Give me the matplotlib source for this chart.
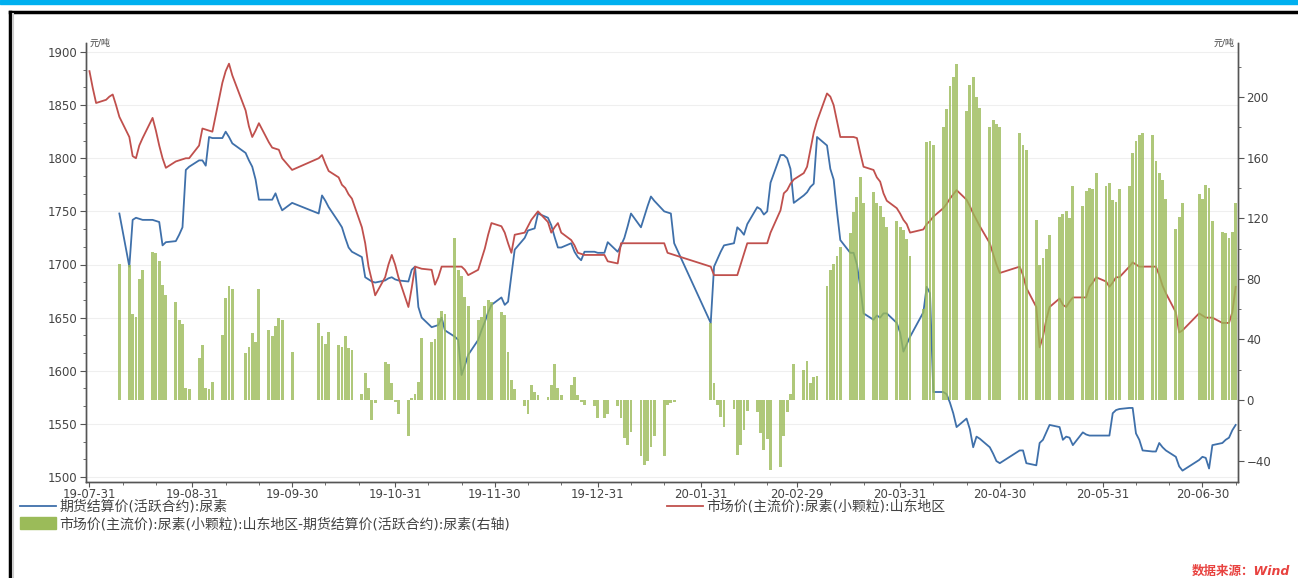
import numpy as np
import pandas as pd
import matplotlib
matplotlib.use("Agg")
import matplotlib.pyplot as plt
import matplotlib.dates as mdates
from matplotlib.ticker import MultipleLocator
from matplotlib.lines import Line2D
from matplotlib.patches import Rectangle, Patch

plt.rcParams['font.family'] = ['DejaVu Sans', 'Noto Sans CJK SC']

# trading days, exchange holidays removed
HOLIDAYS = ["2019-09-13", "2019-10-01", "2019-10-02", "2019-10-03", "2019-10-04", "2019-10-07",
            "2020-01-01", "2020-01-24", "2020-01-27", "2020-01-28", "2020-01-29", "2020-01-30",
            "2020-01-31", "2020-04-06", "2020-05-01", "2020-05-04", "2020-05-05",
            "2020-06-25", "2020-06-26"]
days = pd.bdate_range("2019-07-31", "2020-07-10")
days = days[~days.isin(pd.to_datetime(HOLIDAYS))]

# 市场价(主流价):尿素(小颗粒):山东地区, one row per week
spot = [
    1882, 1866, 1852,
    1855, 1858, 1860, 1850, 1839,
    1820, 1802, 1800, 1812, 1819,
    1838, 1826, 1812, 1800, 1791,
    1797, 1798, 1799, 1800, 1800,
    1812, 1828, 1827, 1826, 1825,
    1871, 1882, 1889, 1878,
    1845, 1830, 1820, 1826, 1833,
    1815, 1810, 1809, 1808, 1800,
    1789,
    1800, 1803, 1795, 1788,
    1782, 1775, 1772, 1766, 1762,
    1735, 1720, 1698, 1685, 1671,
    1688, 1700, 1709, 1700, 1688,
    1660, 1678, 1698, 1697, 1696,
    1695, 1681, 1688, 1698, 1698,
    1698, 1698, 1698, 1695, 1690,
    1695, 1705, 1715, 1728, 1739,
    1736, 1730, 1720, 1711, 1728,
    1730, 1736, 1742, 1746, 1750,
    1740, 1730, 1735, 1739, 1730,
    1723, 1718, 1711, 1710, 1709,
    1709, 1709, 1709, 1703,
    1701, 1720, 1720, 1720, 1720,
    1720, 1720, 1720, 1720, 1720,
    1720, 1711, 1710, 1709,
    1698, 1690, 1690, 1690, 1690,
    1690, 1690, 1700, 1710, 1720,
    1720, 1720, 1720, 1720, 1730,
    1751, 1767, 1770, 1776, 1780,
    1786, 1792, 1808, 1824, 1835,
    1861, 1858, 1850, 1835, 1820,
    1820, 1820, 1819, 1805, 1792,
    1789, 1782, 1778, 1767, 1760,
    1753, 1748, 1742, 1738, 1730,
    1733, 1738, 1741, 1745,
    1753, 1757, 1762, 1766, 1770,
    1761, 1755, 1748, 1742, 1736,
    1720, 1710, 1700, 1692,
    1698, 1690, 1678,
    1660, 1622, 1632, 1648, 1660,
    1668, 1662, 1660, 1665, 1669,
    1669, 1669, 1679, 1683, 1688,
    1684, 1679, 1683, 1688, 1688,
    1698, 1702, 1700, 1698, 1698,
    1698, 1698, 1690, 1680, 1673,
    1655, 1636, 1638,
    1654, 1652, 1650, 1650, 1650,
    1645, 1645, 1645, 1655, 1679,
]

# 期货结算价(活跃合约):尿素
futures = [
    None, None, None,
    None, None, None, None, 1748,
    1698, 1742, 1744, 1743, 1742,
    1742, 1741, 1740, 1718, 1721,
    1722, 1728, 1735, 1789, 1792,
    1798, 1798, 1793, 1820, 1819,
    1819, 1825, 1820, 1814,
    1805, 1798, 1792, 1780, 1761,
    1761, 1761, 1767, 1758, 1751,
    1758,
    1748, 1765, 1760, 1754,
    1740, 1735, 1725, 1716, 1712,
    1707, 1688, 1686, 1684, 1683,
    1685, 1687, 1688, 1686, 1685,
    1684, 1695, 1698, 1660, 1650,
    1641, 1642, 1643, 1650, 1638,
    1632, 1629, 1596, 1605, 1615,
    1629, 1638, 1646, 1655, 1662,
    1669, 1662, 1665, 1690, 1714,
    1725, 1732, 1733, 1734, 1748,
    1744, 1737, 1726, 1716, 1716,
    1720, 1712, 1707, 1704, 1712,
    1712, 1711, 1711, 1721,
    1712, 1718, 1725, 1736, 1748,
    1735, 1745, 1755, 1764, 1760,
    1750, 1749, 1748, 1720,
    1645, 1698, 1705, 1712, 1718,
    1720, 1735, 1732, 1728, 1738,
    1754, 1752, 1747, 1750, 1777,
    1803, 1803, 1800, 1790, 1758,
    1765, 1768, 1773, 1776, 1820,
    1812, 1790, 1780, 1750, 1723,
    1711, 1711, 1700, 1679, 1654,
    1648, 1652, 1650, 1654, 1654,
    1645, 1636, 1618, 1625, 1632,
    1655, 1679, 1673, 1580,
    1580, 1578, 1570, 1560, 1547,
    1555, 1545, 1528, 1538, 1536,
    1528, 1522, 1515, 1513,
    1525, 1525, 1513,
    1511, 1532, 1535, 1542, 1549,
    1547, 1535, 1538, 1537, 1530,
    1542, 1540, 1539, 1539, 1539,
    1539, 1539, 1560, 1563, 1564,
    1565, 1565, 1541, 1535, 1525,
    1524, 1524, 1532, 1528, 1525,
    1519, 1510, 1506,
    1516, 1519, 1518, 1508, 1530,
    1532, 1535, 1537, 1544, 1549,
]

# 基差 (右轴)
basis = [
    None, None, None,
    None, None, None, None, 90,
    89, 57, 55, 80, 86,
    98, 97, 92, 76, 69,
    65, 53, 50, 8, 7,
    28, 36, 8, 7, 12,
    43, 67, 75, 73,
    31, 35, 44, 38, 73,
    46, 42, 49, 54, 53,
    32,
    51, 42, 37, 45,
    36, 35, 42, 34, 33,
    4, 18, 8, -13, -2,
    25, 24, 11, -1, -9,
    -24, 1, 4, 12, 41,
    38, 40, 54, 59, 57,
    107, 86, 82, 68, 62,
    53, 55, 62, 66, 65,
    58, 56, 32, 13, 7,
    -4, -9, 10, 5, 3,
    2, 10, 24, 8, 3,
    10, 15, 3, -1, -3,
    -4, -12, -12, -9,
    -4, -12, -25, -30, -21,
    -37, -43, -40, -31, -24,
    -37, -3, -2, -1,
    51, 11, -3, -11, -18,
    -6, -36, -30, -20, -7,
    -8, -22, -33, -26, -46,
    -44, -24, -8, 4, 24,
    20, 26, 11, 15, 16,
    75, 86, 90, 95, 101,
    110, 124, 134, 147, 130,
    137, 130, 128, 121, 114,
    118, 114, 112, 106, 95,
    60, 170, 171, 168,
    180, 192, 207, 213, 222,
    191, 208, 213, 200, 193,
    180, 185, 182, 180,
    176, 168, 165,
    119, 89, 94, 100, 109,
    121, 123, 125, 120, 141,
    128, 138, 140, 139, 150,
    141, 143, 132, 131, 139,
    141, 163, 171, 175, 176,
    175, 158, 150, 145, 133,
    113, 121, 130,
    136, 133, 142, 140, 118,
    111, 110, 107, 111, 130,
]

month_ends = ["2019-07-31", "2019-08-31", "2019-09-30", "2019-10-31", "2019-11-30", "2019-12-31",
              "2020-01-31", "2020-02-29", "2020-03-31", "2020-04-30", "2020-05-31", "2020-06-30"]

label_blue = "期货结算价(活跃合约):尿素"
label_red = "市场价(主流价):尿素(小颗粒):山东地区"
label_bar = "市场价(主流价):尿素(小颗粒):山东地区-期货结算价(活跃合约):尿素(右轴)"

BLUE = "#3f70aa"
RED = "#c0504d"
GREEN = "#9bbb59"
AXC = "#555555"

spot = np.array(spot, dtype=float)
futures = np.array(futures, dtype=float)
basis = np.array(basis, dtype=float)

W, H = 1298, 578
fig = plt.figure(figsize=(W / 100, H / 100), dpi=100)
fig.patch.set_facecolor("white")

# page decoration
fig.patches.append(Rectangle((0, 1 - 4 / H), 1, 4 / H, transform=fig.transFigure,
                             color="#00b0f0", zorder=0))
fig.lines.append(Line2D([10 / W, 1], [1 - 12 / H] * 2, transform=fig.transFigure,
                        color="black", lw=2.5))
fig.lines.append(Line2D([10 / W] * 2, [0, 1 - 12 / H], transform=fig.transFigure,
                        color="black", lw=2.5))
fig.lines.append(Line2D([13 / W] * 2, [0, 1 - 14 / H], transform=fig.transFigure,
                        color="#cccccc", lw=1.5))

AX_TOP, AX_BOT = 43, 482
ax = fig.add_axes([86 / W, 1 - AX_BOT / H, (1238 - 86) / W, (AX_BOT - AX_TOP) / H])
ax2 = ax.twinx()

ax.plot(days, futures, color=BLUE, lw=1.3, label=label_blue, zorder=3)
ax.plot(days, spot, color=RED, lw=1.3, label=label_red, zorder=3)

mask = ~np.isnan(basis)
ax2.bar(days[mask], basis[mask], width=0.85, color=GREEN, alpha=0.8, label=label_bar)

ax.set_xlim(pd.Timestamp("2019-07-29 23:00"), pd.Timestamp("2020-07-10 17:00"))
# 1900 sits at y=52 px and 1500 at y=477 px; 0 (right) at y=400 px
ax.set_ylim(1500 - (AX_BOT - 477) / 1.0625, 1900 + (52 - AX_TOP) / 1.0625)
ax2.set_ylim((400 - AX_BOT) / 1.515, (400 - AX_TOP) / 1.515)

ax.set_xticks(pd.to_datetime(month_ends))
ax.xaxis.set_major_formatter(mdates.DateFormatter("%y-%m-%d"))
ax.xaxis.set_minor_locator(mdates.DayLocator(bymonthday=[10, 20]))

ax.set_yticks(np.arange(1500, 1901, 50))
ax.yaxis.set_minor_locator(MultipleLocator(50 / 3))
ax2.set_yticks(np.arange(-40, 201, 40))
ax2.yaxis.set_minor_locator(MultipleLocator(20))

ax.yaxis.grid(True, color="#efefef", lw=0.8)
ax.set_axisbelow(True)

for a in (ax, ax2):
    a.spines["top"].set_visible(False)
    for s in ("left", "right", "bottom"):
        a.spines[s].set_color(AXC)
        a.spines[s].set_linewidth(1.0)
    a.tick_params(which="major", direction="out", length=4, color=AXC,
                  labelsize=8.5, labelcolor="#444444", pad=2)
    a.tick_params(which="minor", direction="out", length=2.5, color=AXC)
ax.tick_params(axis="x", which="major", labelsize=8.5, length=3.5, pad=1)

ax.text(0.003, 1.0, "元/吨", transform=ax.transAxes, fontsize=6.5, color="#444444",
        ha="left", va="center")
ax2.text(0.997, 1.0, "元/吨", transform=ax2.transAxes, fontsize=6.5, color="#444444",
         ha="right", va="center")

# legend, laid out like the original: two items on the first row, the bars on the second
leg_kw = dict(frameon=False, fontsize=10, labelcolor="#444444", borderpad=0,
              borderaxespad=0, handletextpad=0.25, handlelength=2.6, loc="center left")
fig.legend(handles=[Line2D([], [], color=BLUE, lw=1.3)], labels=[label_blue],
           bbox_to_anchor=(20 / W, 1 - 507 / H), **leg_kw)
fig.legend(handles=[Line2D([], [], color=RED, lw=1.3)], labels=[label_red],
           bbox_to_anchor=(667 / W, 1 - 507 / H), **leg_kw)
fig.legend(handles=[Patch(color=GREEN)], labels=[label_bar], handleheight=0.9,
           bbox_to_anchor=(20 / W, 1 - 524 / H), **leg_kw)

fig.text(1290 / W, 1 - 571 / H, "数据来源：Wind", ha="right", va="center",
         color="#e8423f", fontsize=9, style="italic", weight="bold")

fig.savefig("out.png", dpi=100)
